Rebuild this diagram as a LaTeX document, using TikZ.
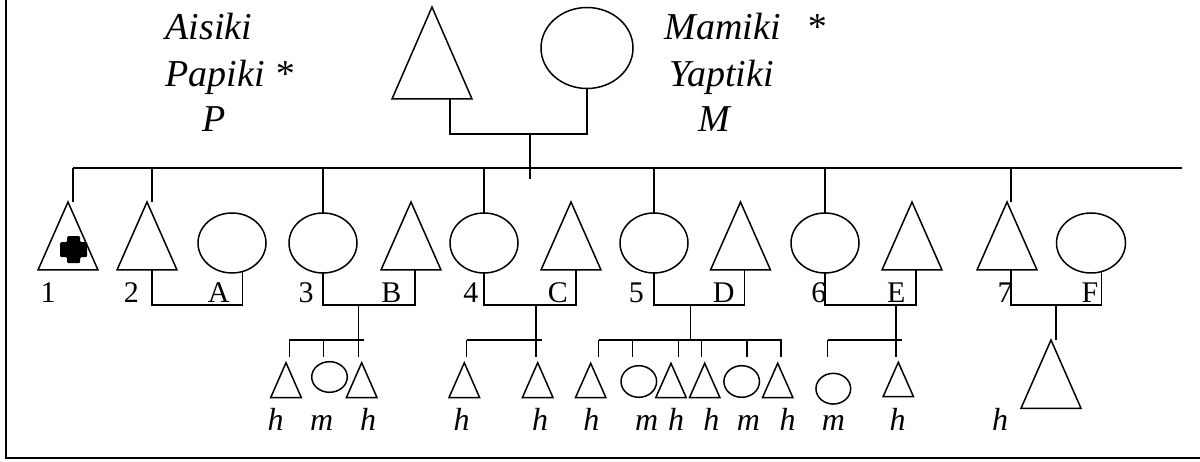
\documentclass[tikz,border=0pt]{standalone}
\usepackage{fontspec}
\setmainfont{Liberation Serif}
\usetikzlibrary{shapes.geometric}
\tikzset{
  male/.style n args={2}{draw, isosceles triangle, shape border rotate=90,
    isosceles triangle stretches, minimum width=#1, minimum height=#2,
    inner sep=0pt, outer sep=0pt, anchor=apex},
  female/.style n args={2}{draw, ellipse, minimum width=#1, minimum height=#2,
    inner sep=0pt, outer sep=0pt},
  bigname/.style={inner sep=0pt, anchor=base west, font=\fontsize{38}{42}\selectfont\itshape},
  lab/.style={inner sep=0pt, anchor=base, font=\fontsize{30}{34}\selectfont},
  glab/.style={inner sep=0pt, anchor=base, font=\fontsize{32}{36}\selectfont\itshape}
}
\begin{document}
\begin{tikzpicture}[x=1pt,y=-1pt,line width=1.5pt]
\useasboundingbox (0,0) rectangle (1200,462);
% frame
\coordinate (fr1) at (6,0);
\coordinate (fr2) at (6,458);
\coordinate (fr3) at (1200,458);
\draw[line width=2.2pt] (fr1) -- (fr2) -- (fr3);

% names
\node[bigname] (tA) at (165,40) {Aisiki};
\node[bigname] (tP) at (165,87) {Papiki *};
\node[bigname] (tP2) at (202,131.7) {P};
\node[bigname] (tM) at (664,40) {Mamiki\hspace{26pt}*};
\node[bigname] (tY) at (669,87) {Yaptiki};
\node[bigname] (tM2) at (698,131.7) {M};

% parents
\node[male={80pt}{92pt}] (pf) at (432,7) {};
\node[female={92pt}{81pt}] (pm) at (587,48) {};
\draw ([xshift=18pt]pf.lower side) -- ++(0,35) -| (pm.south);
\coordinate (pdt) at (530,134);
\coordinate (pdb) at (530,179);
\draw (pdt) -- (pdb);

% generation line
\coordinate (gl) at (73,168);
\coordinate (gr) at (1182,168);
\draw (gl) -- (gr);

% children
\node[male={60pt}{68pt}] (c1) at (68,202) {};
\node[male={60pt}{68pt}] (c2) at (147,202) {};
\node[female={68pt}{60pt}] (sA) at (232,243) {};
\node[female={68pt}{60pt}] (c3) at (323,243) {};
\node[male={60pt}{68pt}] (sB) at (411,202) {};
\node[female={68pt}{60pt}] (c4) at (484,243) {};
\node[male={60pt}{68pt}] (sC) at (571,202) {};
\node[female={68pt}{60pt}] (c5) at (654,243) {};
\node[male={60pt}{68pt}] (sD) at (740.5,202) {};
\node[female={68pt}{60pt}] (c6) at (825,243) {};
\node[male={60pt}{68pt}] (sE) at (912,202) {};
\node[male={60pt}{68pt}] (c7) at (1007,202) {};
\node[female={69pt}{60pt}] (sF) at (1091,243) {};

% affected mark
\coordinate (x1) at (73.7,249.7);
\begin{scope}[shift={(x1)}]
\fill[rounded corners=1.2pt] (-6.5,-13.5) -- (6.5,-13.5) -- (6.5,-7.5) -- (13.5,-7.5) -- (13.5,7.5) -- (6.5,7.5) -- (6.5,13.5) -- (-6.5,13.5) -- (-6.5,7.5) -- (-13.5,7.5) -- (-13.5,-7.5) -- (-6.5,-7.5) -- cycle;
\end{scope}

% drops from generation line
\draw ([xshift=5pt]c1.apex) -- ([xshift=5pt]c1.apex |- gl);
\draw ([xshift=5pt]c2.apex) -- ([xshift=5pt]c2.apex |- gl);
\draw (c3.north) -- (c3.north |- gl);
\draw (c4.north) -- (c4.north |- gl);
\draw (c5.north) -- (c5.north |- gl);
\draw (c6.north) -- (c6.north |- gl);
\draw ([xshift=4pt]c7.apex) -- ([xshift=4pt]c7.apex |- gl);

% marriages
\draw ([xshift=5pt]c2.lower side) -- ++(0,35) -| (sA.-70);
\draw (c3.south) -- ++(0,32) -| ([xshift=4pt]sB.lower side);
\draw (c4.south) -- ++(0,32) -| ([xshift=5pt]sC.lower side);
\draw (c5.south) -- ++(0,32) -| ([xshift=4pt]sD.lower side);
\draw (c6.south) -- ++(0,32) -| ([xshift=4pt]sE.lower side);
\draw ([xshift=4pt]c7.lower side) -- ++(0,35) -| (sF.-70);

% child labels
\node[lab] (l1) at (48,303) {1};
\node[lab] (l2) at (131.3,303) {2};
\node[lab] (lA) at (218.7,303) {A};
\node[lab] (l3) at (306,303) {3};
\node[lab] (lB) at (391.3,303) {B};
\node[lab] (l4) at (470.8,303) {4};
\node[lab] (lC) at (557.8,303) {C};
\node[lab] (l5) at (636.3,303) {5};
\node[lab] (lD) at (723.8,303) {D};
\node[lab] (l6) at (818.8,303) {6};
\node[lab] (lE) at (896.2,303) {E};
\node[lab] (l7) at (1005,303) {7};
\node[lab] (lF) at (1090,303) {F};

% family 3
\coordinate (m3) at (358.5,305);
\coordinate (s3l) at (289.3,340);
\coordinate (s3r) at (364,340);
\coordinate (d31) at (289.3,356.7);
\coordinate (d32) at (323.3,356.7);
\coordinate (d33) at (358.5,356.7);
\draw (m3) -- (d33);
\draw (s3l) -- (s3r);
\draw (d31) -- (d31 |- s3l);
\draw (d32) -- (d32 |- s3l);
\node[male={30.7pt}{35pt}] (g31) at (286,362.7) {};
\node[female={35.6pt}{30.6pt}] (g32) at (329.5,377) {};
\node[male={30.7pt}{35pt}] (g33) at (361.7,362.7) {};

% family 4
\coordinate (m4) at (536,305);
\coordinate (s4l) at (466.7,340);
\coordinate (s4r) at (541.7,340);
\coordinate (d41) at (466.7,356.7);
\coordinate (d42) at (536,356.7);
\draw (m4) -- (d42);
\draw (s4l) -- (s4r);
\draw (d41) -- (d41 |- s4l);
\node[male={30.7pt}{35pt}] (g41) at (464.3,362.7) {};
\node[male={30.7pt}{35pt}] (g42) at (537.7,362.7) {};

% family 5
\coordinate (m5) at (690.3,305);
\coordinate (s5l) at (598.7,340);
\coordinate (s5r) at (781.7,340);
\coordinate (d51) at (598.7,356.7);
\coordinate (d52) at (632.7,356.7);
\coordinate (d53) at (678.7,356.7);
\coordinate (d54) at (701.7,356.7);
\coordinate (d55) at (747,356.7);
\coordinate (d56) at (781.2,356.7);
\draw (m5) -- (m5 |- s5l);
\draw (s5l) -- (s5r);
\foreach \d in {d51,d52,d53,d54,d55,d56} \draw (\d) -- (\d |- s5l);
\node[male={30.5pt}{34.4pt}] (g51) at (590.7,363.3) {};
\node[female={35.6pt}{31.6pt}] (g52) at (638.8,381.5) {};
\node[male={30.5pt}{34.4pt}] (g53) at (671,363.3) {};
\node[male={30.5pt}{34.4pt}] (g54) at (704.7,363.3) {};
\node[female={35.6pt}{31.6pt}] (g55) at (741.7,381.5) {};
\node[male={30.5pt}{34.4pt}] (g56) at (777.7,363.3) {};

% family 6
\coordinate (m6) at (896,305);
\coordinate (s6l) at (827.7,340);
\coordinate (s6r) at (901.7,340);
\coordinate (d61) at (827.7,356.7);
\coordinate (d62) at (896,356.7);
\draw (m6) -- (d62);
\draw (s6l) -- (s6r);
\draw (d61) -- (d61 |- s6l);
\node[female={34.7pt}{30.7pt}] (g61) at (833.3,388.7) {};
\node[male={30.4pt}{34.4pt}] (g62) at (898.3,362.3) {};

% family 7
\coordinate (m7) at (1056,305);
\node[male={60pt}{68.3pt}] (g71) at (1051,340) {};
\draw (m7) -- ([xshift=5pt]g71.apex);

% grandchild labels
\node[glab] (h1) at (275.5,430) {h};
\node[glab] (h2) at (321.7,430) {m};
\node[glab] (h3) at (368,430) {h};
\node[glab] (h4) at (461.7,430) {h};
\node[glab] (h5) at (540,430) {h};
\node[glab] (h6) at (591.3,430) {h};
\node[glab] (h7) at (646.7,430) {m};
\node[glab] (h8) at (676.2,430) {h};
\node[glab] (h9) at (711.3,430) {h};
\node[glab] (h10) at (748.3,430) {m};
\node[glab] (h11) at (787.5,430) {h};
\node[glab] (h12) at (833.3,430) {m};
\node[glab] (h13) at (897.5,430) {h};
\node[glab] (h14) at (1000,430) {h};
\end{tikzpicture}
\end{document}
